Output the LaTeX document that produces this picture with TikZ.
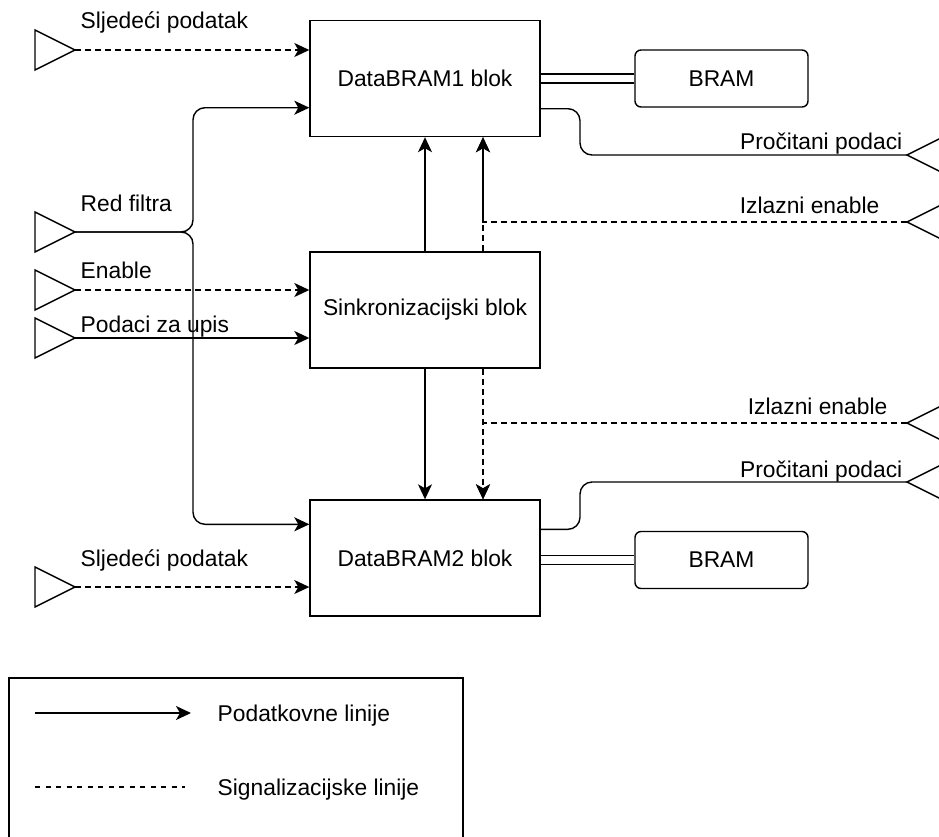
\documentclass[tikz,border=0pt]{standalone}
\usepackage{fontspec}
\setmainfont{Liberation Sans}
\usetikzlibrary{arrows.meta,calc}
\begin{document}
\begin{tikzpicture}[x=1pt,y=-1pt,line width=1.4pt,
  every node/.style={font=\fontsize{22.8}{27}\selectfont,inner sep=0pt},
  blk/.style={draw,rectangle,minimum width=230pt,minimum height=116pt},
  bram/.style={draw,rectangle,rounded corners=6pt,minimum width=173pt,minimum height=57pt},
  dat/.style={-{Stealth[length=15pt,width=14pt,inset=4pt]}},
  sig/.style={dash pattern=on 6pt off 4pt},
  lbl/.style={anchor=base west},
  rlbl/.style={anchor=base east}]
\clip (0,0) rectangle (939,836);
% blocks
\node[blk] (d1) at (425,78.5) {DataBRAM1 blok};
\node[blk] (s) at (425,310) {Sinkronizacijski blok};
\node[blk] (d2) at (425,558) {DataBRAM2 blok};
\node[bram] (b1) at (721.5,78.5) {BRAM};
\node[bram] (b2) at (721.5,560) {BRAM};
% ports
\foreach \y in {50,232,290,338,587} \draw[line join=miter] (35,\y-20) -- (75,\y) -- (35,\y+20) -- cycle;
\foreach \y in {155,222,423,482} \draw[line join=miter] (947,\y-20) -- (907,\y) -- (947,\y+20);
\coordinate (pin1) at (75,50);
\coordinate (pin2) at (75,232);
\coordinate (pin3) at (75,290);
\coordinate (pin4) at (75,338);
\coordinate (pin5) at (75,587);
\coordinate (pout1) at (907,155);
\coordinate (iout1) at (907,222);
\coordinate (iout2) at (907,423);
\coordinate (pout2) at (907,482);
\coordinate (bus) at (193,0);
\coordinate (xd) at (483,0);
\coordinate (xr) at (580,0);
\coordinate (d1a) at ($(d1.south west)+(0,-29.5)$);
\coordinate (d2a) at ($(d2.north west)+(0,25)$);
\coordinate (d1o) at ($(d1.south east)+(0,-28.5)$);
\coordinate (d2o) at ($(d2.north east)+(0,30)$);
% labels
\node[lbl] (t1) at (80,28) {Sljedeći podatak};
\node[lbl] (t2) at (80,211) {Red filtra};
\node[lbl] (t3) at (80,278) {Enable};
\node[lbl] (t4) at (80,332) {Podaci za upis};
\node[lbl] (t5) at (80,566) {Sljedeći podatak};
\node[rlbl] (r1) at (903,149) {Pročitani podaci};
\node[rlbl] (r2) at (880,213) {Izlazni enable};
\node[rlbl] (r3) at (888,414) {Izlazni enable};
\node[rlbl] (r4) at (903,477) {Pročitani podaci};
% inputs
\draw[sig,dat] (pin1) -- (pin1 -| d1.west);
\draw[dat,rounded corners=12pt] (pin2) -- (pin2 -| bus) -- (bus |- d1a) -- (d1a);
\draw[dat,rounded corners=12pt] (pin2) -- (pin2 -| bus) -- (bus |- d2a) -- (d2a);
\draw[sig,dat] (pin3) -- (pin3 -| s.west);
\draw[dat] (pin4) -- (pin4 -| s.west);
\draw[sig,dat] (pin5) -- (pin5 -| d2.west);
% internal
\draw[dat] (s.north) -- (d1.south);
\draw[sig,dat] (s.north -| xd) -- (d1.south -| xd);
\draw[sig,dat] (iout1) -| (d1.south -| xd);
\draw[dat] (s.south) -- (d2.north);
\draw[sig,dat] (s.south -| xd) -- (d2.north -| xd);
\draw[sig,dat] (iout2) -| (d2.north -| xd);
% outputs
\draw[rounded corners=12pt] (d1o) -- (d1o -| xr) -- (xr |- pout1) -- (pout1);
\draw[rounded corners=12pt] (d2o) -- (d2o -| xr) -- (xr |- pout2) -- (pout2);
% BRAM links
\draw[double,double distance=7.6pt] (d1.east |- b1) -- (b1.west);
\draw[double,double distance=7.6pt] (d2.east |- b2) -- (b2.west);
% legend
\node[draw,rectangle,minimum width=454pt,minimum height=190pt] (leg) at (236,773) {};
\coordinate (l1a) at (35,713);
\coordinate (l1b) at (191,713);
\coordinate (l2a) at (35,787);
\coordinate (l2b) at (185,787);
\draw[dat] (l1a) -- (l1b);
\draw[line width=1.2pt,dash pattern=on 5pt off 5.5pt] (l2a) -- (l2b);
\node[lbl] (lt1) at (217,721) {Podatkovne linije};
\node[lbl] (lt2) at (217,795) {Signalizacijske linije};
\end{tikzpicture}
\end{document}
